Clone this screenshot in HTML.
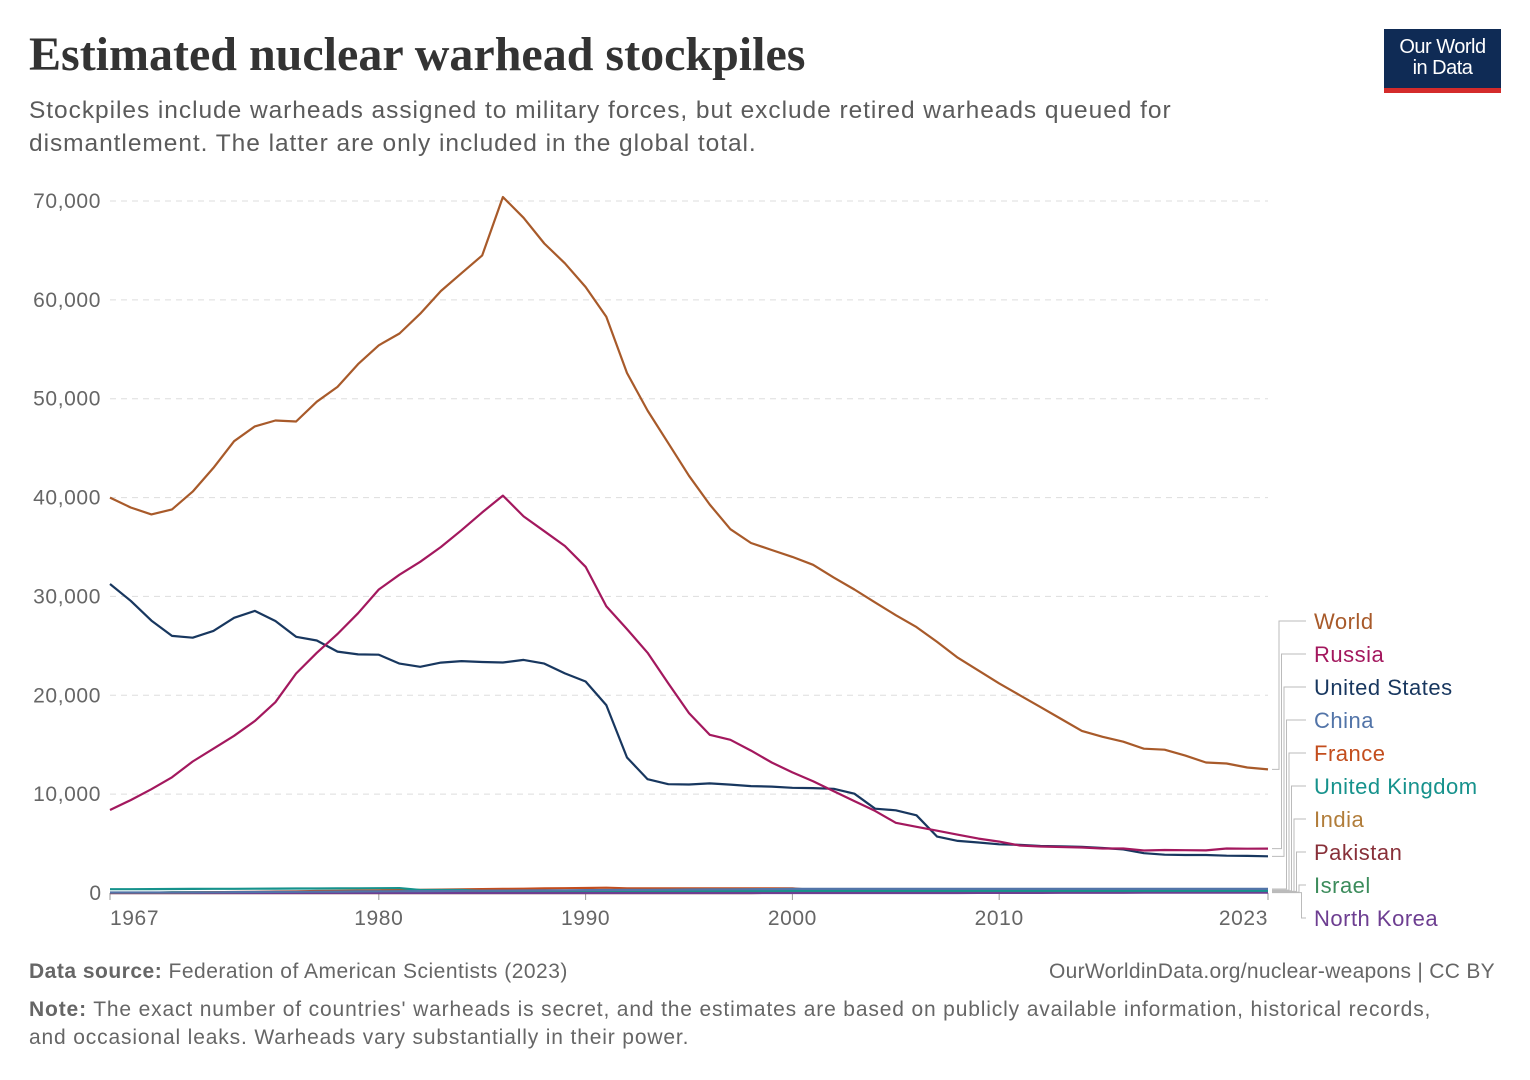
<!DOCTYPE html>
<html><head><meta charset="utf-8"><style>
body{margin:0;width:1530px;height:1080px;background:#fff;font-family:"Liberation Sans",sans-serif;position:relative;overflow:hidden}
.t{position:absolute;white-space:nowrap}
</style></head><body>
<div class="t" style="left:29px;top:27px;font-family:'Liberation Serif',serif;font-weight:bold;font-size:48px;color:#333">Estimated nuclear warhead stockpiles</div>
<div class="t" style="left:29px;top:94px;font-size:24.5px;letter-spacing:0.95px;color:#5b5b5b;line-height:33px">Stockpiles include warheads assigned to military forces, but exclude retired warheads queued for<br>dismantlement. The latter are only included in the global total.</div>
<div style="position:absolute;left:1384px;top:29px;width:117px;height:64px;background:#0f2b55;border-bottom:5px solid #d42b2b;box-sizing:border-box;color:#fff;text-align:center;font-size:20px;line-height:21px;padding-top:8px;letter-spacing:-0.5px">Our World<br>in Data</div>
<svg id="s" width="1530" height="1080" style="position:absolute;left:0;top:0"></svg>
<div class="t" style="left:29px;top:960px;font-size:21px;letter-spacing:0.5px;color:#666"><b>Data source:</b> Federation of American Scientists (2023)</div>
<div class="t" style="right:35px;top:960px;font-size:21px;letter-spacing:0.3px;color:#666">OurWorldinData.org/nuclear-weapons | CC BY</div>
<div class="t" style="left:29px;top:996px;font-size:21px;letter-spacing:0.85px;color:#666;line-height:28px"><b>Note:</b> The exact number of countries' warheads is secret, and the estimates are based on publicly available information, historical records,<br>and occasional leaks. Warheads vary substantially in their power.</div>
<script>
const X=y=>110+(y-1967)*1158/56, Y=v=>893-v*692/70000;
let h='';
for(let i=1;i<=7;i++){let y=Y(i*10000);h+=`<line x1="110" x2="1268" y1="${y}" y2="${y}" stroke="#ddd" stroke-dasharray="6,5"/>`;h+=`<text x="101" y="${y+7}" text-anchor="end" font-size="21" letter-spacing="0.6" fill="#666">${i*10},000</text>`;}
h+=`<text x="101" y="900" text-anchor="end" font-size="21" fill="#666">0</text>`;
[[1967,'1967'],[1980,'1980'],[1990,'1990'],[2000,'2000'],[2010,'2010'],[2023,'2023']].forEach(([yr,l],i)=>{let x=X(yr);h+=`<line x1="${x}" x2="${x}" y1="893" y2="900" stroke="#999"/>`;h+=`<text x="${x}" y="925" text-anchor="${i==0?'start':(i==5?'end':'middle')}" font-size="21" letter-spacing="0.6" fill="#666">${l}</text>`});
h+=`<line x1="110" x2="1268" y1="893" y2="893" stroke="#999"/>`;
const W=[40000,39000,38300,38800,40600,43000,45700,47200,47800,47700,49700,51200,53500,55400,56600,58600,60900,62700,64500,70400,68300,65700,63700,61300,58300,52600,48800,45500,42200,39300,36800,35400,34700,34000,33200,31900,30700,29400,28100,26900,25400,23800,22500,21200,20000,18800,17600,16400,15800,15300,14600,14500,13900,13200,13100,12700,12500];
const R=[8400,9400,10500,11700,13300,14600,15900,17400,19300,22200,24300,26200,28300,30700,32200,33500,35000,36700,38500,40200,38100,36600,35100,33000,29000,26700,24300,21200,18200,16000,15500,14400,13200,12200,11300,10300,9300,8300,7100,6700,6300,5900,5500,5200,4800,4700,4650,4600,4500,4500,4300,4350,4330,4310,4500,4480,4490];
const U=[31255,29561,27552,26008,25830,26516,27835,28537,27519,25914,25542,24418,24138,24104,23208,22886,23305,23459,23368,23317,23575,23205,22217,21392,19008,13708,11511,11008,10979,11085,10968,10813,10765,10638,10613,10540,10049,8530,8362,7856,5709,5273,5113,4926,4877,4751,4717,4661,4547,4406,4027,3879,3842,3840,3772,3750,3708];
const f=fn=>Array.from({length:57},(_,i)=>fn(1967+i));
const UK=f(y=>y<1982?380+(y-1967)*8:(y<1985?300:225));
const FR=f(y=>y<1970?30:(y<1992?Math.min(540,30+(y-1970)*24):(y<2001?480:300)));
const CN=f(y=>y<1970?50:Math.min(410,50+(y-1970)*12+(y>2010?(y-2010)*12:0)));
const IN=f(y=>y<1998?0:(y-1998)*7), PK=f(y=>y<1998?0:(y-1998)*7), IL=f(y=>y<1970?10:80), NK=f(y=>y<2006?0:(y-2006)*2.5);
const ser=[[IN,'#b17d3a'],[PK,'#883039'],[IL,'#3c8c5c'],[NK,'#6d3e91'],[FR,'#c34d1d'],[UK,'#16928c'],[CN,'#5274a8'],[U,'#18375f'],[R,'#a3185e'],[W,'#a85a2a']];
ser.forEach(([d,c])=>{h+=`<polyline fill="none" stroke="${c}" stroke-width="2.2" stroke-linejoin="round" points="${d.map((v,i)=>X(1967+i).toFixed(1)+','+Y(v).toFixed(1)).join(' ')}"/>`});
const L=[['World','#a85a2a',12500],['Russia','#a3185e',4490],['United States','#18375f',3708],['China','#5274a8',410],['France','#c34d1d',290],['United Kingdom','#16928c',225],['India','#b17d3a',170],['Pakistan','#883039',170],['Israel','#3c8c5c',90],['North Korea','#6d3e91',40]];
L.forEach(([n,c,v],i)=>{let ly=621+i*33,vx=1279+i*2.5,ey=Y(v);
h+=`<polyline fill="none" stroke="#bbb" stroke-width="1" points="1272,${ey} ${vx},${ey} ${vx},${ly} 1306,${ly}"/>`;
h+=`<text x="1314" y="${ly+8}" font-size="22" letter-spacing="0.5" fill="${c}">${n}</text>`});
document.getElementById('s').innerHTML=h;
</script>
</body></html>
